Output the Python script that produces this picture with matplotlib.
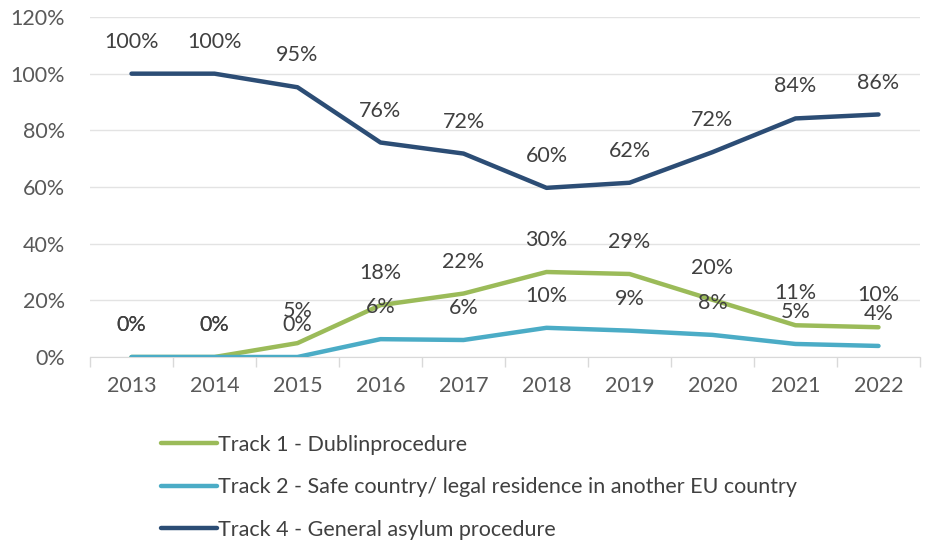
import numpy as np
import matplotlib
matplotlib.use("Agg")
from matplotlib import pyplot as plt
from matplotlib.lines import Line2D

# data (share of cases per track, in %)
years = [2013, 2014, 2015, 2016, 2017, 2018, 2019, 2020, 2021, 2022]
track1 = [0, 0, 4.9, 18.3, 22.4, 30.0, 29.3, 20.2, 11.2, 10.5]
track2 = [0, 0, 0, 6.3, 6.0, 10.3, 9.3, 7.8, 4.6, 3.9]
track4 = [100, 100, 95.2, 75.7, 71.8, 59.7, 61.5, 72.3, 84.2, 85.6]
labels1 = ["0%", "0%", "5%", "18%", "22%", "30%", "29%", "20%", "11%", "10%"]
labels2 = ["0%", "0%", "0%", "6%", "6%", "10%", "9%", "8%", "5%", "4%"]
labels4 = ["100%", "100%", "95%", "76%", "72%", "60%", "62%", "72%", "84%", "86%"]
names = ["Track 1 - Dublinprocedure",
         "Track 2 - Safe country/ legal residence in another EU country",
         "Track 4 - General asylum procedure"]
colors = ["#9bbb59", "#4bacc6", "#2c4d75"]

plt.rcParams['font.family'] = ['Lato', 'DejaVu Sans']
FS = 15.5

fig = plt.figure(figsize=(9.26, 5.47), dpi=100)
ax = fig.add_axes([90 / 926, 1 - 357 / 547, 830 / 926, 340 / 547])

x = np.arange(len(years))
series = [(track1, labels1), (track2, labels2), (track4, labels4)]
for (vals, labs), c in zip(series, colors):
    ax.plot(x, vals, color=c, lw=3.2, solid_capstyle='round', zorder=3)
    for xi, v, t in zip(x, vals, labs):
        ax.annotate(t, (xi, v), xytext=(0, 23), textcoords='offset points',
                    ha='center', va='center', fontsize=FS, color='#404040', zorder=4)

ax.set_xlim(-0.5, len(years) - 0.5)
ax.set_ylim(0, 120)
ax.set_yticks(np.arange(0, 121, 20))
ax.set_yticklabels([f"{v}%" for v in range(0, 121, 20)])
ax.set_xticks(x)
ax.set_xticklabels([str(y) for y in years])
ax.set_xticks(np.arange(-0.5, len(years), 1), minor=True)
ax.tick_params(axis='x', which='major', length=0, pad=14, labelsize=FS, labelcolor='#595959')
ax.tick_params(axis='x', which='minor', length=7, color='#d9d9d9', width=1)
ax.tick_params(axis='y', length=0, pad=18, labelsize=FS, labelcolor='#595959')
ax.grid(axis='y', color='#e3e3e3', lw=1)
ax.set_axisbelow(True)
for s in ['top', 'right', 'left']:
    ax.spines[s].set_visible(False)
ax.spines['bottom'].set_color('#d9d9d9')

handles = [Line2D([0], [0], color=c, lw=3.2, solid_capstyle='round') for c in colors]
fig.legend(handles, names, loc='upper left', bbox_to_anchor=(150 / 926, 1 - 424 / 547),
           frameon=False, fontsize=FS, labelcolor='#404040', handlelength=2.6,
           handletextpad=0.05, labelspacing=1.05, borderpad=0)

fig.savefig("out.png", dpi=100)
